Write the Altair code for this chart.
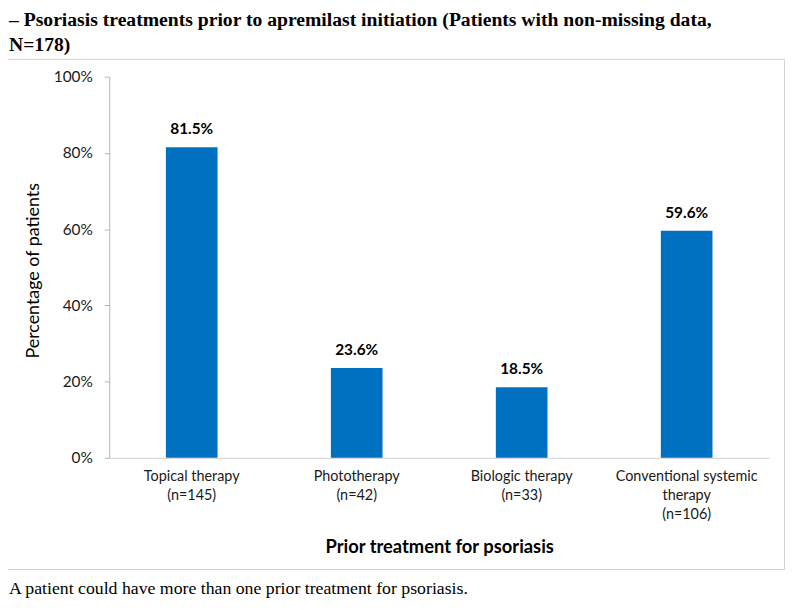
import altair as alt
import pandas as pd

# ---- data ----
treatments = ["Topical therapy", "Phototherapy", "Biologic therapy", "Conventional systemic|therapy"]
counts = [145, 42, 33, 106]
percents = [81.5, 23.6, 18.5, 59.6]
y_ticks = [0, 20, 40, 60, 80, 100]

title_lines = [
    "\u2013 Psoriasis treatments prior to apremilast initiation (Patients with non-missing data,",
    "N=178)",
]
footnote = "A patient could have more than one prior treatment for psoriasis."
x_title = "Prior treatment for psoriasis"
y_title = "Percentage of patients"

df = pd.DataFrame({
    "category": [f"{t}|(n={n})" for t, n in zip(treatments, counts)],
    "pct": percents,
})
one = pd.DataFrame({"k": [0]})

BLUE = "#0070C0"
AXIS_GRAY = "#b4b4b4"
TEXT = "#1a1a1a"

base = alt.Chart(df).encode(
    x=alt.X(
        "category:N",
        sort=None,
        scale=alt.Scale(paddingInner=0.687, paddingOuter=0.3435),
        axis=alt.Axis(
            title=x_title,
            labelExpr="split(datum.label, '|')",
            labelAngle=0,
            labelFont="Lato",
            labelFontSize=14.5,
            labelColor=TEXT,
            labelLineHeight=19,
            labelBaseline="top",
            labelPadding=12,
            ticks=False,
            tickSize=0,
            domainColor="#d0d0d0",
            titleFont="Lato",
            titleFontSize=18.5,
            titleFontWeight="bold",
            titleColor="#000000",
            titleBaseline="alphabetic",
            titleY=95.5,
        ),
    ),
    y=alt.Y(
        "pct:Q",
        scale=alt.Scale(domain=[0, 100]),
        axis=alt.Axis(
            title=y_title,
            values=y_ticks,
            labelExpr="datum.value + '%'",
            grid=False,
            tickSize=5,
            tickColor=AXIS_GRAY,
            domainColor=AXIS_GRAY,
            labelFont="Lato",
            labelFontSize=15.5,
            labelColor=TEXT,
            labelPadding=12,
            titleFont="Lato",
            titleFontSize=18,
            titleFontWeight="normal",
            titleColor="#000000",
            titleBaseline="alphabetic",
            titleX=-71,
            titleY=195,
        ),
    ),
)

bars = base.mark_bar(color=BLUE)

values = base.transform_calculate(
    txt="format(datum.pct, '.1f') + '%'"
).mark_text(
    baseline="alphabetic", dy=-13, font="Lato", fontSize=15.5, fontWeight="bold", color="#000000"
).encode(text="txt:N")

border = alt.Chart(one).mark_rect(
    fillOpacity=0, stroke="#d4d4d4", strokeWidth=1
).encode(
    x=alt.value(-106.5), x2=alt.value(680.5), y=alt.value(-17.5), y2=alt.value(496.5)
)

title = alt.Chart(one).mark_text(
    align="left", baseline="alphabetic", font="Liberation Serif", fontSize=19.8,
    fontWeight="bold", lineHeight=25.5, color="#000000"
).encode(x=alt.value(-101), y=alt.value(-51.5), text=alt.value(title_lines))

note = alt.Chart(one).mark_text(
    align="left", baseline="alphabetic", font="Liberation Serif", fontSize=17.9, color="#000000"
).encode(x=alt.value(-101), y=alt.value(521), text=alt.value(footnote))

chart = alt.layer(border, bars, values, title, note).properties(
    width=665,
    height=384,
    autosize=alt.AutoSizeParams(type="none"),
    padding={"left": 102, "top": 67, "right": 19, "bottom": 141},
    background="white",
).configure_view(strokeWidth=0)

chart.save("out.html", embed_options={"renderer": "svg", "actions": False})
